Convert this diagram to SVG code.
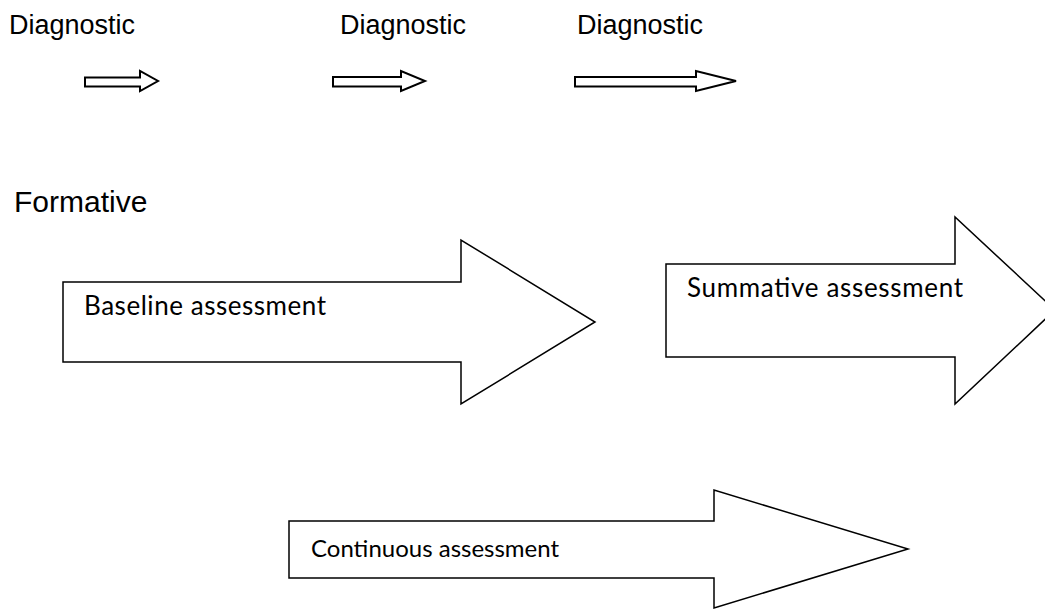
<svg xmlns="http://www.w3.org/2000/svg" width="1045" height="609" viewBox="0 0 1045 609">
  <style>
    .arrow { fill: #ffffff; stroke: #000000; stroke-width: 1.5; stroke-linejoin: miter; }
    .thin { stroke-width: 2; }
    .head { font-family: "Liberation Sans", Arial, sans-serif; font-size: 27px; fill: #000000; }
    .big { font-size: 30px; }
    .label { font-family: Lato, "Open Sans", sans-serif; font-size: 26px; fill: #000000; }
    .small { font-size: 24px; }
  </style>
  <rect width="1045" height="609" fill="#ffffff"/>

  <!-- headings -->
  <g id="diagnostic-1"><text class="head" x="9" y="34">Diagnostic</text></g>
  <g id="diagnostic-2"><text class="head" x="340" y="34">Diagnostic</text></g>
  <g id="diagnostic-3"><text class="head" x="577" y="34">Diagnostic</text></g>
  <g id="formative"><text class="head big" x="14" y="212">Formative</text></g>

  <!-- small block arrows under the headings -->
  <g id="connectors">
    <polygon class="arrow thin" points="85,77.5 140,77.5 140,71 158,81 140,91 140,86.5 85,86.5"/>
    <polygon class="arrow thin" points="333,77 401,77 401,71 425,81 401,91 401,86.5 333,86.5"/>
    <polygon class="arrow thin" points="575,77 696,77 696,71 736,81 696,91 696,86.5 575,86.5"/>
  </g>

  <!-- large labelled block arrows -->
  <g id="baseline">
    <polygon class="arrow" points="63,282 461,282 461,240 595,322 461,404 461,362 63,362"/>
    <text class="label" x="84" y="315" textLength="242">Baseline assessment</text>
  </g>
  <g id="summative">
    <polygon class="arrow" points="666,264 955,264 955,217 1055,310 955,404 955,357 666,357"/>
    <text class="label" x="687" y="297" textLength="276">Summative assessment</text>
  </g>
  <g id="continuous">
    <polygon class="arrow" points="289,521 714,521 714,490 908,549 714,608 714,578 289,578"/>
    <text class="label small" x="311" y="557">Continuous assessment</text>
  </g>
</svg>
